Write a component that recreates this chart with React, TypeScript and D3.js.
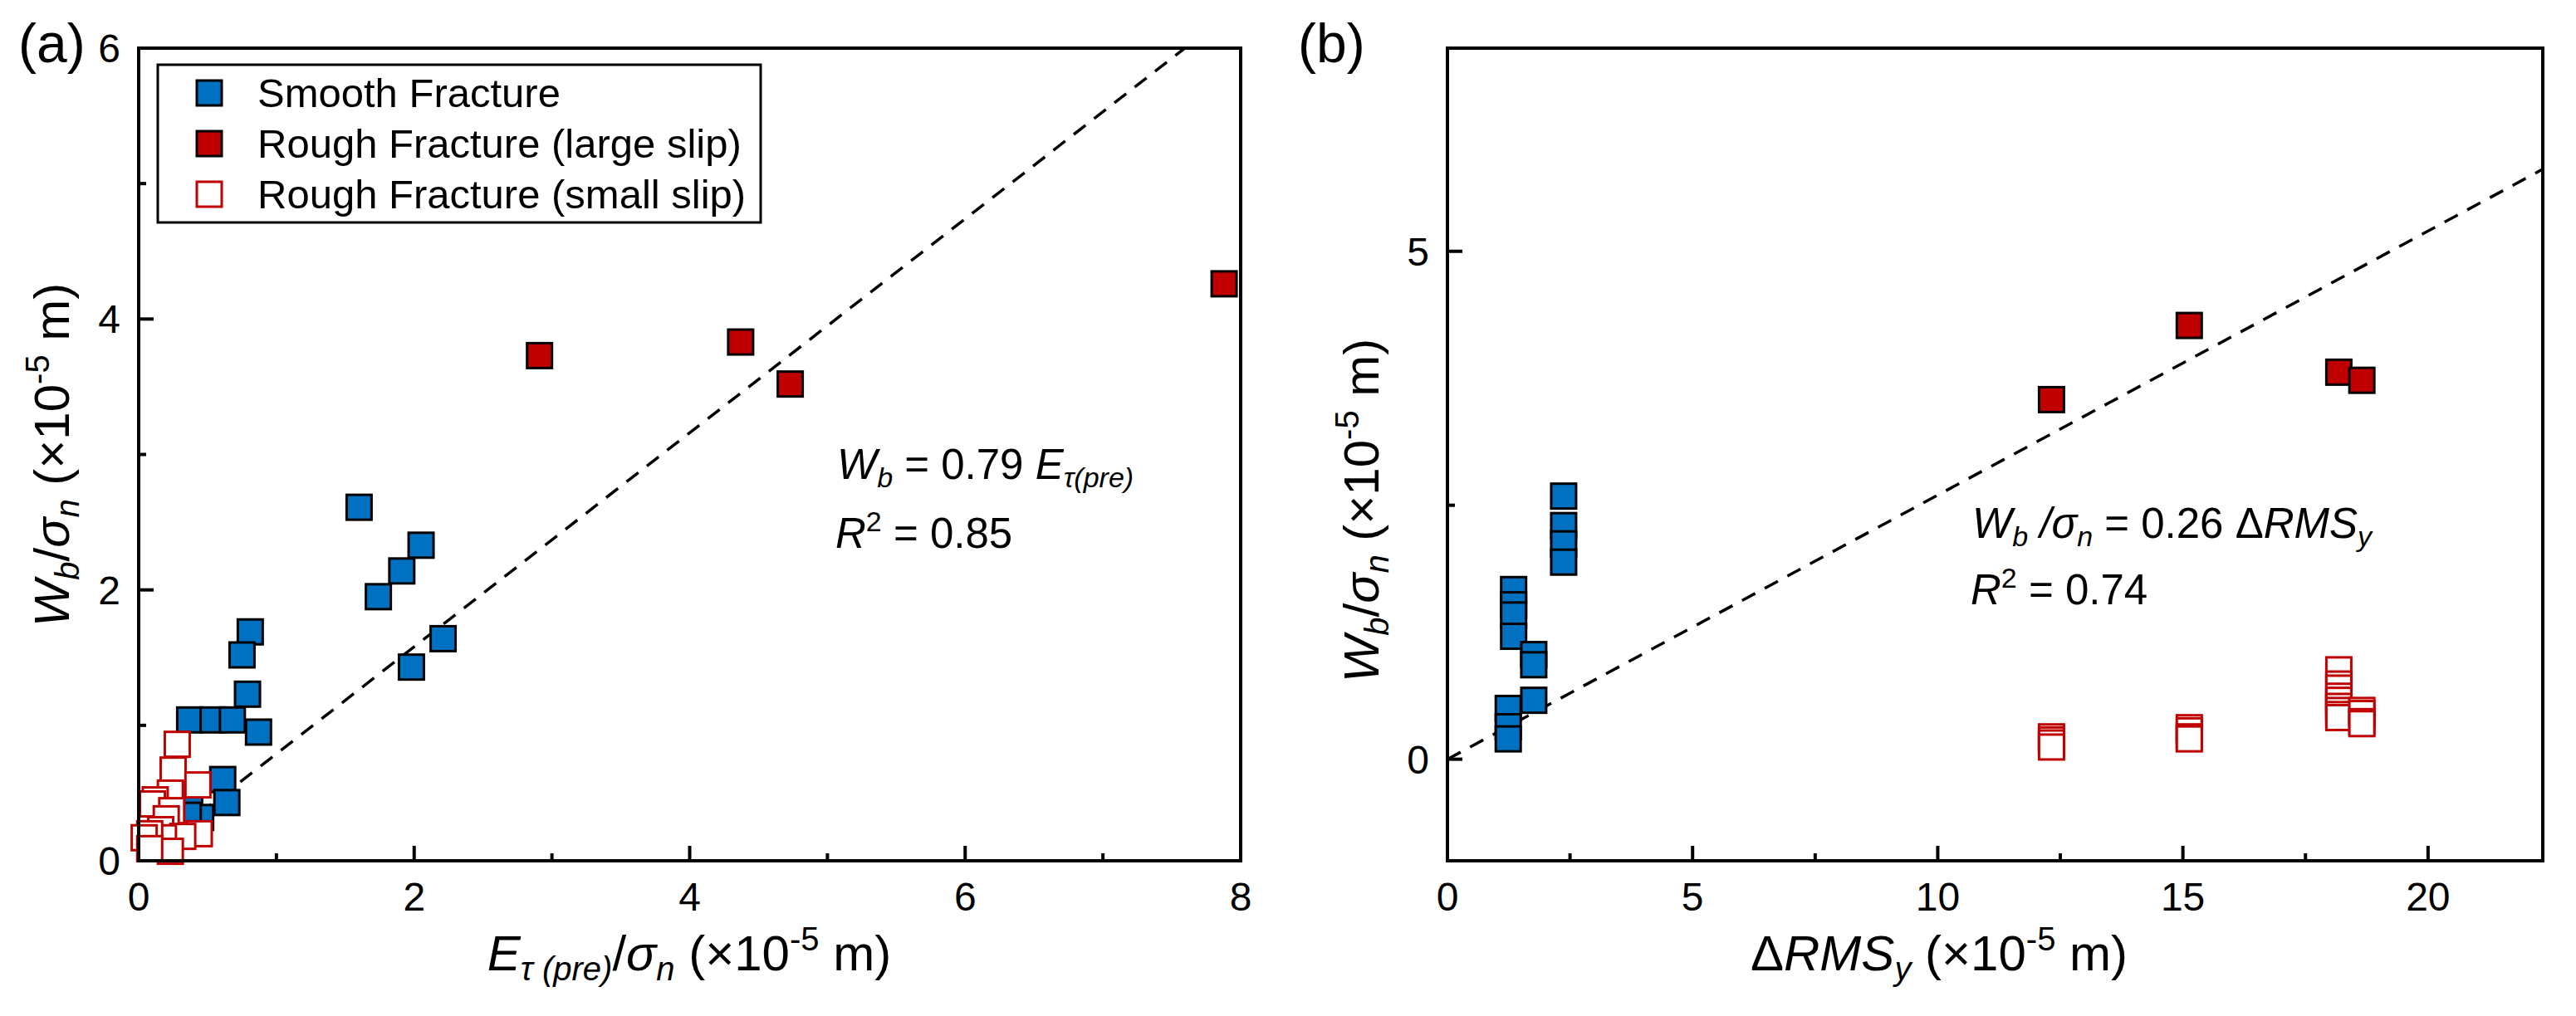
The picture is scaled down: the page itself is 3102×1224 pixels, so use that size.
import React from 'react'
import * as d3 from 'd3'

const FONT = '"Liberation Sans", Arial, Helvetica, sans-serif'
const BLUE = '#0070C0'
const RED = '#C00000'

// panel (a): E_tau(pre)/sigma_n vs W_b/sigma_n
const aSmooth: [number, number][] = [
  [1.6, 2.61], [2.05, 2.33], [1.91, 2.14], [1.74, 1.95], [2.21, 1.64], [1.98, 1.43],
  [0.81, 1.69], [0.75, 1.52], [0.79, 1.23], [0.37, 1.04], [0.54, 1.04], [0.68, 1.04],
  [0.87, 0.95], [0.61, 0.6], [0.64, 0.43], [0.45, 0.32], [0.36, 0.35], [0.37, 0.52],
]
const aRoughLarge: [number, number][] = [[2.91, 3.73], [4.37, 3.83], [4.73, 3.52], [7.88, 4.26]]
const aRoughSmall: [number, number][] = [
  [0.28, 0.86], [0.25, 0.67], [0.43, 0.56], [0.23, 0.5], [0.12, 0.45], [0.1, 0.42],
  [0.24, 0.37], [0.2, 0.31], [0.16, 0.23], [0.44, 0.2], [0.32, 0.18], [0.18, 0.17],
  [0.08, 0.2], [0.04, 0.17], [0.23, 0.07], [0.08, 0.09],
]
const aSlope = 0.79

// panel (b): delta RMS_y vs W_b/sigma_n
const bSmooth: [number, number][] = [
  [1.24, 0.5], [1.24, 0.32], [1.24, 0.2],
  [1.35, 1.67], [1.35, 1.52], [1.35, 1.42], [1.35, 1.21],
  [1.76, 1.03], [1.76, 0.93], [1.76, 0.58],
  [2.37, 2.59], [2.37, 2.3], [2.37, 2.12], [2.37, 1.94],
]
const bRoughLarge: [number, number][] = [[12.32, 3.54], [15.13, 4.27], [18.18, 3.81], [18.65, 3.73]]
const bRoughSmall: [number, number][] = [
  [12.32, 0.22], [12.32, 0.19], [12.32, 0.16], [12.32, 0.12],
  [15.13, 0.31], [15.13, 0.28], [15.13, 0.22], [15.13, 0.2],
  [18.18, 0.88], [18.18, 0.74], [18.18, 0.7], [18.18, 0.62], [18.18, 0.58],
  [18.18, 0.52], [18.18, 0.48], [18.18, 0.44], [18.18, 0.41],
  [18.65, 0.48], [18.65, 0.45], [18.65, 0.37], [18.65, 0.35],
]
const bSlope = 0.26

const aXTicks = [0, 2, 4, 6, 8]
const aXMinor = [1, 3, 5, 7]
const aYTicks = [0, 2, 4, 6]
const aYMinor = [1, 3, 5]
const bXTicks = [0, 5, 10, 15, 20]
const bXMinor = [2.5, 7.5, 12.5, 17.5]
const bYTicks = [0, 5]
const bYMinor = [2.5]

const legendItems = [
  { label: 'Smooth Fracture', fill: BLUE, stroke: '#000' },
  { label: 'Rough Fracture (large slip)', fill: RED, stroke: '#000' },
  { label: 'Rough Fracture (small slip)', fill: '#fff', stroke: RED },
]

const SIZE = 30

function Markers({ data, x, y, fill, stroke }: any) {
  return (
    <g>
      {data.map((d: [number, number], i: number) => (
        <rect key={i} x={x(d[0]) - SIZE / 2} y={y(d[1]) - SIZE / 2} width={SIZE} height={SIZE}
          fill={fill} stroke={stroke} strokeWidth={3} />
      ))}
    </g>
  )
}

function Panel(props: any) {
  const { id, left, right, top, bottom, xDomain, yDomain, xTicks, xMinor, yTicks, yMinor,
    smooth, large, small, slope, children } = props
  const x = d3.scaleLinear().domain(xDomain).range([left, right])
  const y = d3.scaleLinear().domain(yDomain).range([bottom, top])
  const line = d3.line<number>().x(d => x(d)).y(d => y(slope * d))
  const inY = (v: number) => v >= yDomain[0] && v <= yDomain[1]
  return (
    <g>
      <defs>
        <clipPath id={`clip-${id}`}>
          <rect x={left} y={top} width={right - left} height={bottom - top} />
        </clipPath>
      </defs>
      <path d={line([0, xDomain[1]]) || ''} fill="none" stroke="#000" strokeWidth={3.5}
        strokeDasharray="18,13" clipPath={`url(#clip-${id})`} />
      <Markers data={smooth} x={x} y={y} fill={BLUE} stroke="#000" />
      <Markers data={large} x={x} y={y} fill={RED} stroke="#000" />
      <Markers data={small} x={x} y={y} fill="#fff" stroke={RED} />
      <rect x={left} y={top} width={right - left} height={bottom - top} fill="none"
        stroke="#000" strokeWidth={4} />
      {xTicks.map((t: number) => (
        <g key={`xt${t}`}>
          <line x1={x(t)} x2={x(t)} y1={bottom} y2={bottom - 18} stroke="#000" strokeWidth={4} />
          <text x={x(t)} y={bottom + 60} textAnchor="middle" fontSize={48}>{t}</text>
        </g>
      ))}
      {xMinor.filter((t: number) => t < xDomain[1]).map((t: number) => (
        <line key={`xm${t}`} x1={x(t)} x2={x(t)} y1={bottom} y2={bottom - 9} stroke="#000" strokeWidth={4} />
      ))}
      {yTicks.map((t: number) => (
        <g key={`yt${t}`}>
          <line x1={left} x2={left + 18} y1={y(t)} y2={y(t)} stroke="#000" strokeWidth={4} />
          <text x={left - 22} y={y(t) + 17} textAnchor="end" fontSize={48}>{t}</text>
        </g>
      ))}
      {yMinor.filter(inY).map((t: number) => (
        <line key={`ym${t}`} x1={left} x2={left + 9} y1={y(t)} y2={y(t)} stroke="#000" strokeWidth={4} />
      ))}
      {children}
    </g>
  )
}

function YTitle({ cx, cy }: { cx: number; cy: number }) {
  return (
    <text transform={`translate(${cx},${cy}) rotate(-90)`} textAnchor="middle" fontSize={60}>
      <tspan fontStyle="italic">W</tspan>
      <tspan fontStyle="italic" fontSize={40} dy={12}>b</tspan>
      <tspan dy={-12}>/</tspan>
      <tspan fontStyle="italic">σ</tspan>
      <tspan fontStyle="italic" fontSize={40} dy={12}>n</tspan>
      <tspan dy={-12}> (×10</tspan>
      <tspan fontSize={40} dy={-24}>-5</tspan>
      <tspan dy={24}> m)</tspan>
    </text>
  )
}

export default function App() {
  const W = 3102
  const H = 1224
  return (
    <svg width={W} height={H} style={{ position: 'absolute', left: 0, top: 0, background: '#fff' }}
      fontFamily={FONT}>
      <rect width={W} height={H} fill="#fff" />

      <Panel id="a" left={167} right={1494} top={58} bottom={1037} xDomain={[0, 8]} yDomain={[0, 6]}
        xTicks={aXTicks} xMinor={aXMinor} yTicks={aYTicks} yMinor={aYMinor}
        smooth={aSmooth} large={aRoughLarge} small={aRoughSmall} slope={aSlope}>
        <rect x={190} y={78} width={726} height={190} fill="#fff" stroke="#000" strokeWidth={3} />
        {legendItems.map((it, i) => (
          <g key={it.label}>
            <rect x={252 - SIZE / 2} y={112 + i * 61 - SIZE / 2} width={SIZE} height={SIZE}
              fill={it.fill} stroke={it.stroke} strokeWidth={3} />
            <text x={310} y={112 + i * 61 + 17} fontSize={49}>{it.label}</text>
          </g>
        ))}
        <text x={1008} y={577} fontSize={51}>
          <tspan fontStyle="italic">W</tspan>
          <tspan fontStyle="italic" fontSize={34} dy={10}>b</tspan>
          <tspan dy={-10}> = 0.79 </tspan>
          <tspan fontStyle="italic">E</tspan>
          <tspan fontStyle="italic" fontSize={34} dy={10}>τ(pre)</tspan>
        </text>
        <text x={1006} y={660} fontSize={51}>
          <tspan fontStyle="italic">R</tspan>
          <tspan fontSize={34} dy={-20}>2</tspan>
          <tspan dy={20}> = 0.85</tspan>
        </text>
        <text x={830} y={1169} textAnchor="middle" fontSize={60}>
          <tspan fontStyle="italic">E</tspan>
          <tspan fontStyle="italic" fontSize={40} dy={12}>τ (pre)</tspan>
          <tspan dy={-12}>/</tspan>
          <tspan fontStyle="italic">σ</tspan>
          <tspan fontStyle="italic" fontSize={40} dy={12}>n</tspan>
          <tspan dy={-12}> (×10</tspan>
          <tspan fontSize={40} dy={-24}>-5</tspan>
          <tspan dy={24}> m)</tspan>
        </text>
        <YTitle cx={83} cy={548} />
      </Panel>

      <Panel id="b" left={1743} right={3062} top={58} bottom={1037} xDomain={[0, 22.34]} yDomain={[-1, 7]}
        xTicks={bXTicks} xMinor={bXMinor} yTicks={bYTicks} yMinor={bYMinor}
        smooth={bSmooth} large={bRoughLarge} small={bRoughSmall} slope={bSlope}>
        <text x={2375} y={648} fontSize={51}>
          <tspan fontStyle="italic">W</tspan>
          <tspan fontStyle="italic" fontSize={34} dy={10}>b</tspan>
          <tspan fontStyle="italic" dy={-10}> /σ</tspan>
          <tspan fontStyle="italic" fontSize={34} dy={10}>n</tspan>
          <tspan dy={-10}> = 0.26 Δ</tspan>
          <tspan fontStyle="italic">RMS</tspan>
          <tspan fontStyle="italic" fontSize={34} dy={10}>y</tspan>
        </text>
        <text x={2373} y={728} fontSize={51}>
          <tspan fontStyle="italic">R</tspan>
          <tspan fontSize={34} dy={-20}>2</tspan>
          <tspan dy={20}> = 0.74</tspan>
        </text>
        <text x={2335} y={1169} textAnchor="middle" fontSize={60}>
          <tspan>Δ</tspan>
          <tspan fontStyle="italic">RMS</tspan>
          <tspan fontStyle="italic" fontSize={40} dy={12}>y</tspan>
          <tspan dy={-12}> (×10</tspan>
          <tspan fontSize={40} dy={-24}>-5</tspan>
          <tspan dy={24}> m)</tspan>
        </text>
        <YTitle cx={1660} cy={615} />
      </Panel>

      <text x={22} y={75} fontSize={66}>(a)</text>
      <text x={1563} y={75} fontSize={66}>(b)</text>
    </svg>
  )
}
